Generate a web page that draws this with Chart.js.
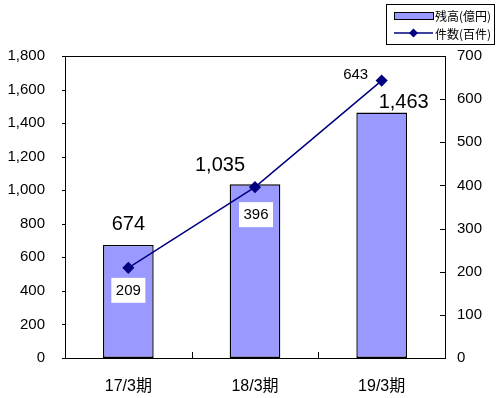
<!DOCTYPE html>
<html>
<head>
<meta charset="utf-8">
<script src="https://cdn.jsdelivr.net/npm/chart.js@4"></script>
<style>
  body { margin: 0; background: #fff; }
  canvas { display: block; }
</style>
</head>
<body>
<canvas id="balanceChart" width="496" height="398"></canvas>
<script>
const categories = ["17/3期", "18/3期", "19/3期"];
const balance = [674, 1035, 1463]; // 残高(億円)
const counts = [209, 396, 643]; // 件数(百件)
const leftTicks = [0, 200, 400, 600, 800, 1000, 1200, 1400, 1600, 1800];
const rightTicks = [0, 100, 200, 300, 400, 500, 600, 700];

// label nudges, as in the original sheet
const barLabelShift = [[0, -20], [-35, -19], [22, -10]];
const lineLabelShift = [[0, 22], [1, 27], [-26, -7]];

const latin = "'Liberation Sans', Arial, sans-serif";
const jp = "'Liberation Sans', 'Noto Sans CJK JP', sans-serif";

const frame = {
  id: "frame",
  afterDatasetsDraw(chart) {
    const { ctx, chartArea: a } = chart;
    const y = chart.scales.y, y1 = chart.scales.y1, x = chart.scales.x;
    ctx.save();
    ctx.strokeStyle = "#000";
    ctx.lineWidth = 1;
    ctx.strokeRect(Math.round(a.left) + 0.5, Math.round(a.top) + 0.5,
      Math.round(a.right - a.left), Math.round(a.bottom - a.top));
    ctx.beginPath();
    leftTicks.forEach((v) => {
      const py = Math.round(y.getPixelForValue(v)) + 0.5;
      ctx.moveTo(a.left - 3, py);
      ctx.lineTo(a.left, py);
    });
    rightTicks.forEach((v) => {
      const py = Math.round(y1.getPixelForValue(v)) + 0.5;
      ctx.moveTo(a.right - 5, py);
      ctx.lineTo(a.right, py);
    });
    for (let i = 1; i < categories.length; i++) {
      const px = Math.round((x.getPixelForValue(i - 1) + x.getPixelForValue(i)) / 2) + 0.5;
      ctx.moveTo(px, a.bottom - 6);
      ctx.lineTo(px, a.bottom);
    }
    ctx.stroke();

    // value labels
    ctx.fillStyle = "#000";
    ctx.textAlign = "center";
    ctx.textBaseline = "middle";
    ctx.font = "20px " + latin;
    chart.getDatasetMeta(0).data.forEach((el, i) => {
      const [dx, dy] = barLabelShift[i];
      ctx.fillText(balance[i].toLocaleString("en-US"), el.x + dx, el.y + dy);
    });
    ctx.font = "15px " + latin;
    chart.getDatasetMeta(1).data.forEach((el, i) => {
      const [dx, dy] = lineLabelShift[i];
      const cx = el.x + dx, cy = el.y + dy;
      if (i < 2) {
        ctx.fillStyle = "#fff";
        ctx.fillRect(cx - 17, cy - 12, 34, 25);
      }
      ctx.fillStyle = "#000";
      ctx.fillText(String(counts[i]), cx, cy + 1);
    });

    // legend
    ctx.strokeRect(386.5, 4.5, 108, 40);
    ctx.fillStyle = "#9999ff";
    ctx.fillRect(394, 12, 39, 7);
    ctx.strokeRect(394.5, 12.5, 39, 7);
    ctx.strokeStyle = "#000080";
    ctx.lineWidth = 1.5;
    ctx.beginPath();
    ctx.moveTo(394, 33);
    ctx.lineTo(433, 33);
    ctx.stroke();
    ctx.fillStyle = "#000080";
    ctx.beginPath();
    ctx.moveTo(413.5, 28.5);
    ctx.lineTo(418, 33);
    ctx.lineTo(413.5, 37.5);
    ctx.lineTo(409, 33);
    ctx.closePath();
    ctx.fill();
    ctx.fillStyle = "#000";
    ctx.textAlign = "left";
    ctx.font = "12px 'Noto Sans CJK JP', sans-serif";
    ctx.fillText(chart.data.datasets[0].label, 435, 16);
    ctx.fillText(chart.data.datasets[1].label, 435, 34);
    ctx.restore();
  },
};

new Chart(document.getElementById("balanceChart"), {
  type: "bar",
  data: {
    labels: categories,
    datasets: [
      {
        label: "残高(億円)",
        data: balance,
        backgroundColor: "#9999ff",
        borderColor: "#000",
        borderWidth: 1.4,
        borderSkipped: false,
        barPercentage: 0.4,
        categoryPercentage: 1,
        yAxisID: "y",
        order: 1,
      },
      {
        type: "line",
        label: "件数(百件)",
        data: counts,
        borderColor: "#000080",
        borderWidth: 1.5,
        pointStyle: "rectRot",
        pointRadius: 5,
        pointBackgroundColor: "#000080",
        pointBorderColor: "#000080",
        yAxisID: "y1",
        order: 0,
      },
    ],
  },
  options: {
    responsive: false,
    animation: false,
    layout: { padding: { top: 56 } },
    plugins: {
      legend: { display: false },
      tooltip: { enabled: false },
    },
    scales: {
      x: {
        grid: { display: false, drawTicks: false },
        border: { display: false },
        ticks: { color: "#000", font: { family: jp, size: 16 }, padding: 19 },
        afterFit(s) { s.height = 40; },
      },
      y: {
        position: "left",
        min: 0,
        max: 1800,
        grid: { display: false, drawTicks: false },
        border: { display: false },
        afterBuildTicks(s) { s.ticks = leftTicks.map((v) => ({ value: v })); },
        ticks: {
          color: "#000",
          font: { family: latin, size: 15 },
          padding: 20,
          callback: (v) => v.toLocaleString("en-US"),
        },
        afterFit(s) { s.width = 65; },
      },
      y1: {
        position: "right",
        min: 0,
        max: 700,
        grid: { display: false, drawTicks: false },
        border: { display: false },
        afterBuildTicks(s) { s.ticks = rightTicks.map((v) => ({ value: v })); },
        ticks: { color: "#000", font: { family: latin, size: 15 }, padding: 12 },
        afterFit(s) { s.width = 51; },
      },
    },
  },
  plugins: [frame],
});
</script>
</body>
</html>
